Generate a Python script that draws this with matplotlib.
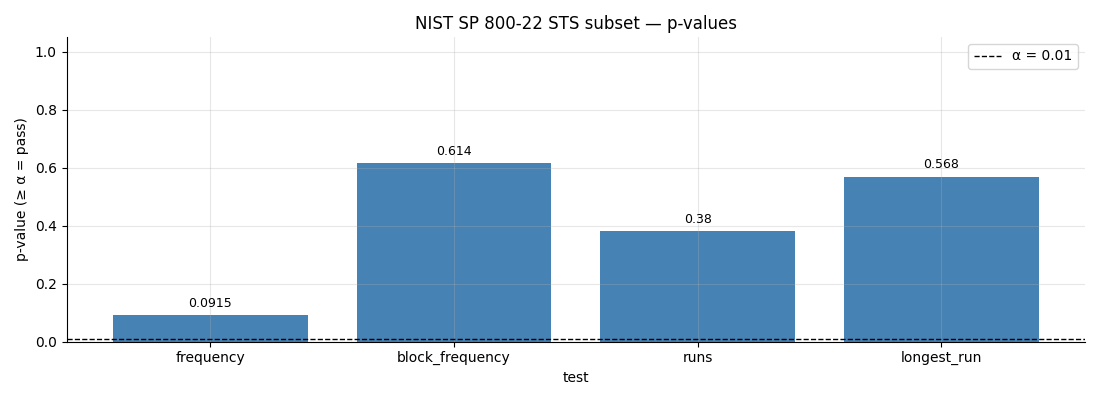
import numpy as np
import matplotlib
matplotlib.use("Agg")
import matplotlib.pyplot as plt

tests = ["frequency", "block_frequency", "runs", "longest_run"]
pvals = [0.0915, 0.614, 0.38, 0.568]
labels = ["0.0915", "0.614", "0.38", "0.568"]
alpha = 0.01

fig, ax = plt.subplots(figsize=(11, 4), dpi=100)
bars = ax.bar(tests, pvals, color="steelblue", width=0.8)
ax.bar_label(bars, labels=labels, padding=4, fontsize=9)
ax.axhline(alpha, color="black", linestyle="--", linewidth=1, label="α = 0.01")
ax.set_ylim(0, 1.05)
ax.set_title("NIST SP 800-22 STS subset — p-values")
ax.set_xlabel("test")
ax.set_ylabel("p-value (≥ α = pass)")
ax.grid(True, alpha=0.3)
ax.spines["top"].set_visible(False)
ax.spines["right"].set_visible(False)
ax.legend(loc="upper right")
fig.subplots_adjust(left=0.0605, right=0.9865, top=0.9075, bottom=0.146)
fig.savefig("out.png")
